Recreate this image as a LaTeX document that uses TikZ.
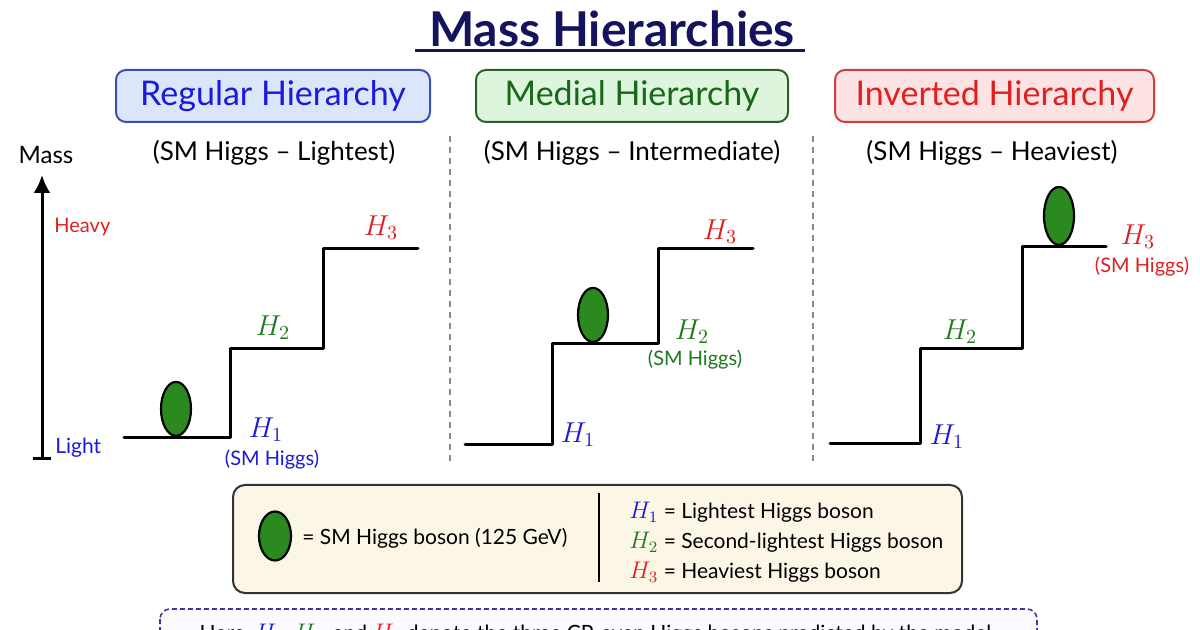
\documentclass[tikz,border=0pt]{standalone}
\usepackage{fontspec}
\setmainfont{Lato}
\usetikzlibrary{shapes.geometric,arrows.meta}
\definecolor{navy}{HTML}{14145E}
\definecolor{hblue}{HTML}{1A1AD8}
\definecolor{hgreen}{HTML}{1E7A1E}
\definecolor{hred}{HTML}{E02020}
\definecolor{ballgreen}{HTML}{2A8A1F}
\definecolor{bluefill}{HTML}{DCE6FA}
\definecolor{blueedge}{HTML}{3A4FB0}
\definecolor{greenfill}{HTML}{DDF5DC}
\definecolor{greenedge}{HTML}{2E5E2E}
\definecolor{redfill}{HTML}{FDE3E3}
\definecolor{rededge}{HTML}{D04040}
\definecolor{legfill}{HTML}{FCF6E6}
\definecolor{sepgray}{HTML}{8A8A8A}
\definecolor{notefill}{HTML}{FAFAFF}
\definecolor{noteedge}{HTML}{3A3A9A}
\tikzset{
  hierbox/.style={draw, line width=1pt, rounded corners=5pt, minimum height=26pt, inner sep=0pt, font=\fontsize{17}{20}\selectfont},
  subt/.style={anchor=base, inner sep=0pt, font=\fontsize{13}{15}\selectfont},
  stair/.style={line width=1.5pt, line join=round, line cap=round},
  ball/.style={ellipse, draw=black, line width=1.1pt, fill=ballgreen, minimum width=15pt, minimum height=27pt, inner sep=0pt, anchor=south},
  hlab/.style={inner sep=0pt, font=\fontsize{14}{16}\selectfont},
  smlab/.style={inner sep=0pt, font=\fontsize{10}{12}\selectfont},
  sep/.style={sepgray, line width=0.6pt, dash pattern=on 3pt off 2.5pt},
  legtxt/.style={anchor=base west, inner sep=0pt, font=\fontsize{10.5}{13}\selectfont},
}
\newcommand{\legH}[2]{{\color{#1}\fontsize{12}{14}\selectfont$H_{#2}$}}
\begin{document}
\begin{tikzpicture}[x=0.5pt,y=-0.5pt]
\useasboundingbox (0,0) rectangle (1200,630);
\clip (0,0) rectangle (1200,630);
\fill[white] (0,0) rectangle (1200,630);

% title
\node[text=navy, inner sep=0pt, font=\fontsize{24}{28}\selectfont\bfseries] (title) at (612,29) {Mass Hierarchies};
\draw[navy, line width=1.5pt] (415,51) -- (805,51);

% hierarchy boxes
\node[hierbox, fill=bluefill, draw=blueedge, text=hblue, minimum width=157pt] (reg) at (273,96) {\raisebox{-1.5pt}{Regular Hierarchy}};
\node[hierbox, fill=greenfill, draw=greenedge, text=hgreen!85!black, minimum width=156pt] (med) at (632,96) {\raisebox{-1.5pt}{Medial Hierarchy}};
\node[hierbox, fill=redfill, draw=rededge, text=hred, minimum width=159.5pt] (inv) at (994.5,96) {\raisebox{-1.5pt}{Inverted Hierarchy}};

% subtitles
\node[subt] (s1) at (274,161) {(SM Higgs -- Lightest)};
\node[subt] (s2) at (632,161) {(SM Higgs -- Intermediate)};
\node[subt] (s3) at (992,161) {(SM Higgs -- Heaviest)};

% separators
\draw[sep] (450,136) -- (450,462);
\draw[sep] (813,136) -- (813,462);

% mass axis
\node[inner sep=0pt, font=\fontsize{12}{14}\selectfont] (mass) at (46,155) {Mass};
\coordinate (axbot) at (42,459);
\coordinate (axtop) at (42,175);
\draw[line width=1.5pt, -{Latex[length=9pt,width=8.5pt]}] (axbot) -- (axtop);
\draw[line width=1.5pt] (33,459) -- (51,459);
\node[anchor=west, inner sep=0pt, text=hred, font=\fontsize{10}{12}\selectfont] (heavy) at (54,227) {Heavy};
\node[anchor=west, inner sep=0pt, text=hblue, font=\fontsize{10.5}{12}\selectfont] (light) at (55,448) {Light};

% panel 1
\draw[stair] (124,438) -- (230,438) -- (230,349) -- (323,349) -- (323,249) -- (418,249);
\coordinate (b1) at (176,437);
\node[ball] (ball1) at (b1) {};
\node[hlab, text=hblue] (p1h1) at (266,430) {$H_1$};
\node[smlab, text=hblue] (p1sm) at (272,460) {(SM Higgs)};
\node[hlab, text=hgreen] (p1h2) at (273,328) {$H_2$};
\node[hlab, text=hred] (p1h3) at (381,228) {$H_3$};

% panel 2
\draw[stair] (465,445) -- (552,445) -- (552,344) -- (658,344) -- (658,249) -- (753,249);
\coordinate (b2) at (593,343);
\node[ball] (ball2) at (b2) {};
\node[hlab, text=hblue] (p2h1) at (578,435) {$H_1$};
\node[hlab, text=hgreen] (p2h2) at (692,332) {$H_2$};
\node[smlab, text=hgreen] (p2sm) at (695,360) {(SM Higgs)};
\node[hlab, text=hred] (p2h3) at (720,232) {$H_3$};

% panel 3
\draw[stair] (830,444) -- (920,444) -- (920,349) -- (1022,349) -- (1022,247) -- (1106,247);
\coordinate (b3) at (1059,246);
\node[ball, minimum height=29pt] (ball3) at (b3) {};
\node[hlab, text=hblue] (p3h1) at (947,437) {$H_1$};
\node[hlab, text=hgreen] (p3h2) at (960,332) {$H_2$};
\node[hlab, text=hred] (p3h3) at (1138,237) {$H_3$};
\node[smlab, text=hred] (p3sm) at (1142,267) {(SM Higgs)};

% legend
\draw[line width=1pt, draw=black!80, fill=legfill, rounded corners=6pt] (233,485) rectangle (962,593);
\node[ellipse, draw=black, line width=1.1pt, fill=ballgreen, minimum width=16pt, minimum height=24.5pt, inner sep=0pt] (legball) at (275,536) {};
\node[legtxt] (legsm) at (302,545) {= SM Higgs boson (125 GeV)};
\draw[line width=1pt] (599,493) -- (599,582);
\node[legtxt] (leg1) at (629,519) {\legH{hblue}{1} = Lightest Higgs boson};
\node[legtxt] (leg2) at (629,549) {\legH{hgreen}{2} = Second-lightest Higgs boson};
\node[legtxt] (leg3) at (629,579) {\legH{hred}{3} = Heaviest Higgs boson};

% note box (cut off at the lower edge, as in the reference)
\draw[noteedge, line width=0.8pt, dash pattern=on 2.5pt off 1.5pt, fill=notefill, rounded corners=5pt] (160,609) rectangle (1037,680);
\node[anchor=base, inner sep=0pt, font=\fontsize{10.5}{13}\selectfont] (note) at (598,640) {Here, \legH{hblue}{1}, \legH{hgreen}{2}, and \legH{hred}{3} denote the three CP-even Higgs bosons predicted by the model.};
\end{tikzpicture}
\end{document}
